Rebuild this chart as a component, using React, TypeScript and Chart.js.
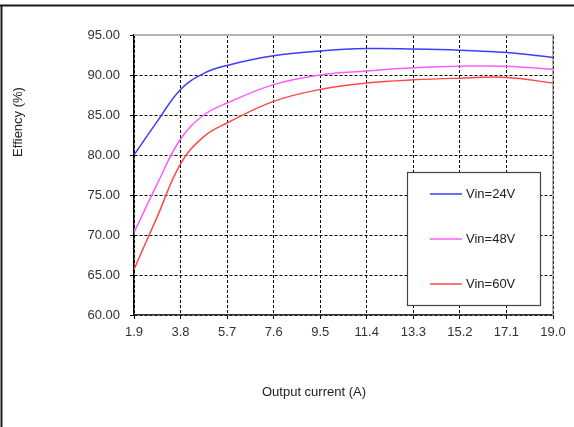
import React, { useEffect, useRef } from "react";
import { Chart, registerables } from "chart.js";

Chart.register(...registerables);

// Output current (A): tick positions and the sampled load points
const currentTicks = [1.9, 3.8, 5.7, 7.6, 9.5, 11.4, 13.3, 15.2, 17.1, 19.0];
const currents = [1.9, 2.85, 3.8, 4.75, 5.7, 7.6, 9.5, 11.4, 13.3, 15.2, 17.1, 19.0];

// Efficiency (%) per input voltage
const effVin24 = [80.0, 84.2, 88.2, 90.2, 91.2, 92.4, 93.0, 93.3, 93.25, 93.1, 92.8, 92.2];
const effVin48 = [70.3, 76.4, 82.0, 85.0, 86.5, 88.8, 90.0, 90.5, 90.9, 91.1, 91.1, 90.7];
const effVin60 = [65.7, 72.3, 78.9, 82.3, 84.0, 86.7, 88.2, 89.0, 89.4, 89.6, 89.7, 89.0];

const seriesNames = ["Vin=24V", "Vin=48V", "Vin=60V"];
const seriesColors = ["#3d3dff", "#ff5cff", "#ff4848"];

const yMin = 60;
const yMax = 95;
const yStep = 5;

const xTitle = "Output current (A)";
const yTitle = "Effiency (%)";

const FONT = '"Liberation Sans", Arial, Helvetica, sans-serif';

const decorPlugin = {
  id: "decor",
  beforeDraw(chart: any) {
    const { ctx, width, height } = chart;
    ctx.save();
    ctx.fillStyle = "#ffffff";
    ctx.fillRect(0, 0, width, height);
    // outer frame (top and left edges)
    ctx.strokeStyle = "#1c1c1c";
    ctx.lineWidth = 2;
    ctx.beginPath();
    ctx.moveTo(0, 5.5);
    ctx.lineTo(width, 5.5);
    ctx.moveTo(1.5, 5.5);
    ctx.lineTo(1.5, height);
    ctx.stroke();
    ctx.restore();
  },
  beforeDatasetsDraw(chart: any) {
    const { ctx, chartArea } = chart;
    const { left, right, top, bottom } = chartArea;
    ctx.save();
    // gray plot border on top and right
    ctx.strokeStyle = "#b4b4b4";
    ctx.lineWidth = 2;
    ctx.beginPath();
    ctx.moveTo(left, top);
    ctx.lineTo(right + 1, top);
    ctx.moveTo(right, top);
    ctx.lineTo(right, bottom);
    ctx.stroke();
    ctx.strokeStyle = "#333";
    ctx.lineWidth = 1;
    ctx.setLineDash([3, 2]);
    ctx.beginPath();
    ctx.moveTo(Math.round(right) + 0.5, top + 1);
    ctx.lineTo(Math.round(right) + 0.5, bottom);
    ctx.stroke();
    ctx.restore();
  },
  afterDraw(chart: any) {
    const { ctx } = chart;
    ctx.save();
    // legend box
    ctx.fillStyle = "#ffffff";
    ctx.fillRect(407, 172, 134, 134);
    ctx.strokeStyle = "#444";
    ctx.lineWidth = 1.2;
    ctx.strokeRect(407.5, 172.5, 133, 133);
    ctx.font = `13px ${FONT}`;
    ctx.textBaseline = "middle";
    ctx.textAlign = "left";
    const rows = [194, 239, 284];
    seriesNames.forEach((name, i) => {
      ctx.strokeStyle = seriesColors[i];
      ctx.lineWidth = 1.5;
      ctx.beginPath();
      ctx.moveTo(430, rows[i]);
      ctx.lineTo(462, rows[i]);
      ctx.stroke();
      ctx.fillStyle = "#222";
      ctx.fillText(name, 466, rows[i] + 0.5);
    });
    // axis titles
    ctx.fillStyle = "#222";
    ctx.textAlign = "center";
    ctx.fillText(xTitle, 314, 392);
    ctx.translate(18, 122);
    ctx.rotate(-Math.PI / 2);
    ctx.fillText(yTitle, 0, 0);
    ctx.restore();
  },
};

export default function App() {
  const canvasRef = useRef<HTMLCanvasElement | null>(null);

  useEffect(() => {
    if (!canvasRef.current) return;
    const series = [effVin24, effVin48, effVin60];
    const chart = new Chart(canvasRef.current, {
      type: "line",
      data: {
        datasets: series.map((values, i) => ({
          label: seriesNames[i],
          data: values.map((v, k) => ({ x: currents[k], y: v })),
          borderColor: seriesColors[i],
          backgroundColor: seriesColors[i],
          borderWidth: 1.5,
          pointRadius: 0,
          tension: 0.4,
          fill: false,
        })),
      },
      options: {
        animation: false,
        responsive: false,
        devicePixelRatio: 1,
        layout: { padding: { top: 35, right: 21, left: 0, bottom: 0 } },
        plugins: {
          legend: { display: false },
          tooltip: { enabled: false },
          title: { display: false },
        },
        scales: {
          x: {
            type: "linear",
            min: currentTicks[0],
            max: currentTicks[currentTicks.length - 1],
            afterBuildTicks: (scale: any) => {
              scale.ticks = currentTicks.map((v) => ({ value: v }));
            },
            afterFit: (scale: any) => {
              scale.height = 112;
            },
            ticks: {
              autoSkip: false,
              maxRotation: 0,
              padding: 6,
              color: "#333",
              font: { family: FONT, size: 13 },
              callback: (v: any) => Number(v).toFixed(1),
            },
            grid: {
              color: "#000",
              lineWidth: 1,
              tickLength: 4,
              tickColor: "#000",
              tickBorderDash: [],
            },
            border: { display: true, color: "#333", width: 1.5, dash: [3, 2] },
          },
          y: {
            type: "linear",
            min: yMin,
            max: yMax,
            afterFit: (scale: any) => {
              scale.width = 134;
            },
            ticks: {
              stepSize: yStep,
              padding: 10,
              color: "#333",
              font: { family: FONT, size: 13 },
              callback: (v: any) => Number(v).toFixed(2),
            },
            grid: {
              color: "#000",
              lineWidth: 1,
              tickLength: 4,
              tickColor: "#000",
              tickBorderDash: [],
            },
            border: { display: true, color: "#000", width: 1.5, dash: [3, 2] },
          },
        },
      },
      plugins: [decorPlugin],
    });
    return () => chart.destroy();
  }, []);

  return (
    <div style={{ position: "absolute", left: 0, top: 0, width: 574, height: 427, background: "#fff" }}>
      <canvas ref={canvasRef} width={574} height={427} style={{ display: "block" }} />
    </div>
  );
}
